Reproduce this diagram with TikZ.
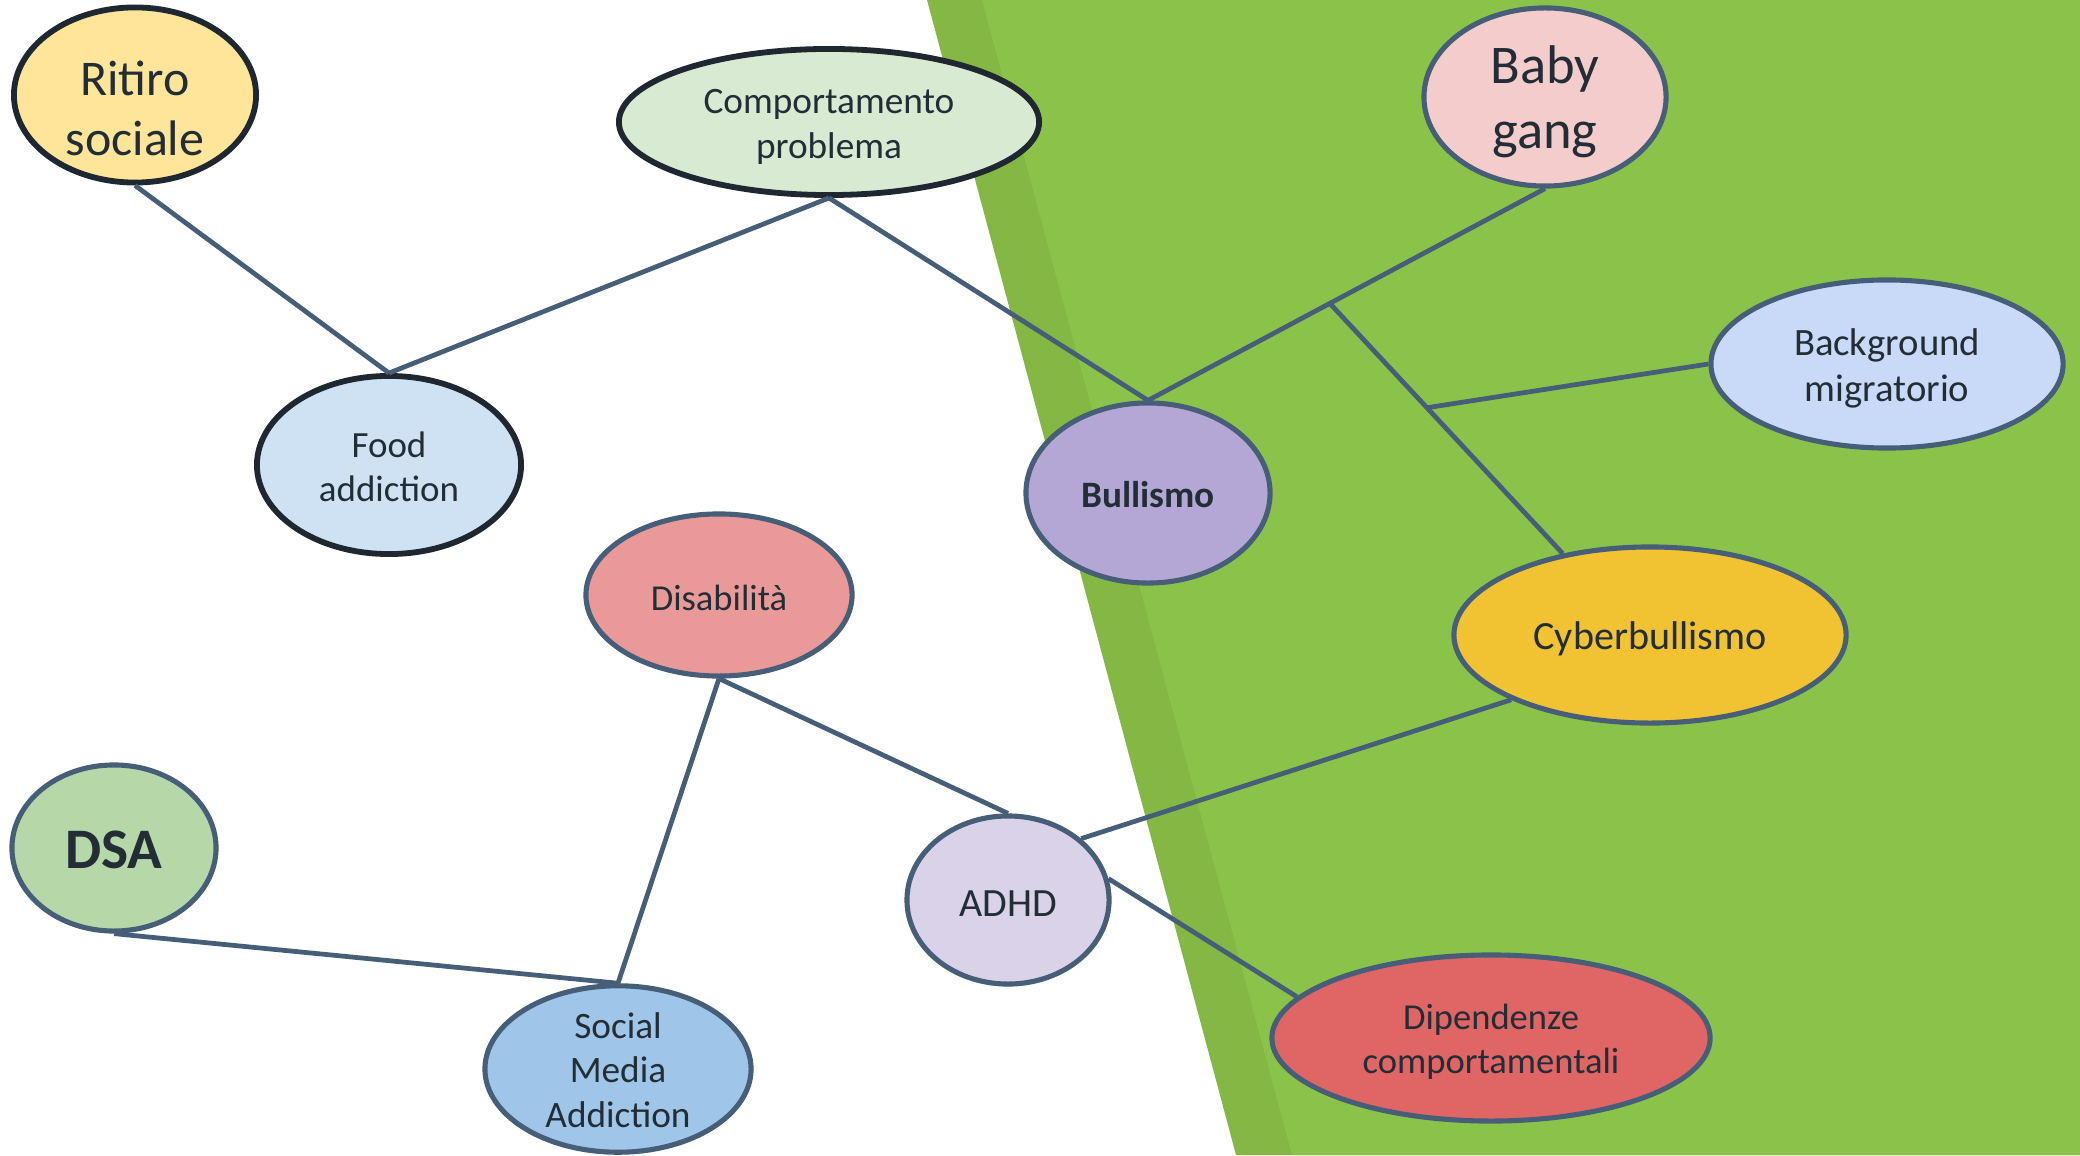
\documentclass[tikz,border=0pt]{standalone}
\usepackage{fontspec}
\setmainfont{Carlito}
\usetikzlibrary{shapes.geometric}
\definecolor{stripgreen}{HTML}{84B743}
\definecolor{fieldgreen}{HTML}{8BC34A}
\definecolor{edgeslate}{HTML}{465E78}
\definecolor{edgedark}{HTML}{1F2830}
\definecolor{inkgrey}{HTML}{222D36}
\definecolor{ritirofill}{HTML}{FFE599}
\definecolor{compfill}{HTML}{D9EAD3}
\definecolor{babyfill}{HTML}{F4CCCC}
\definecolor{foodfill}{HTML}{CFE2F3}
\definecolor{bullfill}{HTML}{B4A7D6}
\definecolor{backfill}{HTML}{C9DAF8}
\definecolor{disabfill}{HTML}{EA9999}
\definecolor{cyberfill}{HTML}{F1C232}
\definecolor{dsafill}{HTML}{B6D7A8}
\definecolor{adhdfill}{HTML}{D9D2E9}
\definecolor{socialfill}{HTML}{9FC5E8}
\definecolor{dipendfill}{HTML}{E06666}
\begin{document}
\begin{tikzpicture}
[x=0.01cm, y=-0.01cm,
 nodedecorate/.style={shape=ellipse,draw=edgeslate,line width=1.45pt,inner sep=0pt,align=center,text=inkgrey},%
 darkdecorate/.style={nodedecorate,draw=edgedark,line width=1.65pt},%
 linedecorate/.style={-,draw=edgeslate,line width=1.35pt}]
\useasboundingbox (0,0) rectangle (2080,1155);
%% green field on the right
\fill [stripgreen] (927,0) -- (2080,0) -- (2080,1155) -- (1236,1155) -- cycle;
\fill [fieldgreen] (982,0) -- (2080,0) -- (2080,1155) -- (1292,1155) -- cycle;
%% nodes or vertices
\foreach \nodename/\x/\y/\wide/\tall/\tint/\look/\pts/\lift/\words in {
  ritiro/135/95/2.42/1.75/ritirofill/darkdecorate/14.2/1.22/{Ritiro\\sociale},
  comp/829/122/4.20/1.46/compfill/darkdecorate/10.6/0.92/{Comportamento\\problema},
  baby/1545/97/2.42/1.78/babyfill/nodedecorate/15.5/0.88/{Baby\\gang},
  food/389/465/2.64/1.78/foodfill/darkdecorate/10.5/0.8/{Food\\addiction},
  bull/1148/493/2.44/1.80/bullfill/nodedecorate/10.6/0.78/{\textbf{Bullismo}},
  back/1887/364/3.52/1.68/backfill/nodedecorate/11/0.92/{Background\\migratorio},
  disab/719/595/2.66/1.62/disabfill/nodedecorate/10.4/0.86/{Disabilità},
  cyber/1650/635/3.92/1.76/cyberfill/nodedecorate/11.4/0.86/{Cyberbullismo},
  dsa/114/848/2.04/1.66/dsafill/nodedecorate/16.3/0.72/{\textbf{DSA}},
  adhd/1008/900/2.02/1.68/adhdfill/nodedecorate/11.4/0.82/{ADHD},
  social/618/1069/2.66/1.64/socialfill/nodedecorate/10.6/0.75/{Social\\Media\\Addiction},
  dipend/1491/1038/4.38/1.66/dipendfill/nodedecorate/10.4/0.92/{Dipendenze\\comportamentali}}
{
  \node (\nodename) at (\x,\y) [\look, fill=\tint, minimum width=\wide cm, minimum height=\tall cm,
    font=\linespread{1.2}\fontsize{\pts}{\pts}\selectfont] {\rule{0pt}{\lift em}\words};
}
%% edges
\draw [linedecorate] (ritiro.south) -- (food.north);
\draw [linedecorate] (comp.south) -- (food.north);
\draw [linedecorate] (comp.south) -- (bull.north);
\draw [linedecorate] (bull.north) -- coordinate[pos=0.458] (fork) (baby.south);
\draw [linedecorate] (fork) -- coordinate[pos=0.417] (branch) (cyber.137);
\draw [linedecorate] (branch) -- (back.west);
\draw [linedecorate] (disab.south) -- (adhd.north);
\draw [linedecorate] (disab.south) -- (social.north);
\draw [linedecorate] (dsa.south) -- (social.north);
\draw [linedecorate] (adhd.40) -- (cyber.205);
\draw [linedecorate] (adhd.12) -- (dipend.168);
\end{tikzpicture}
\end{document}
